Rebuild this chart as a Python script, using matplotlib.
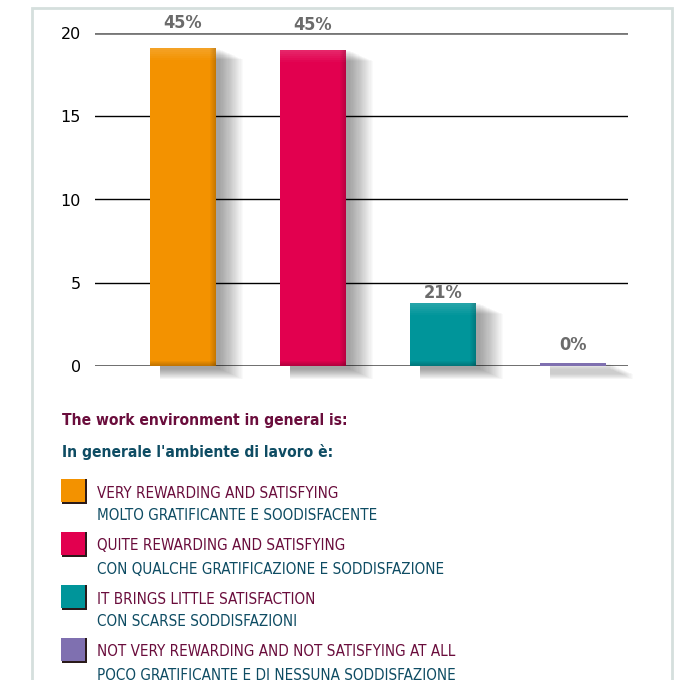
import matplotlib.pyplot as plt
from matplotlib.patches import Rectangle
import numpy as np

# data
values = [19.1, 19.0, 3.8, 0.2]
pct_labels = ["45%", "45%", "21%", "0%"]
colors = ["#f39200", "#e2004f", "#00959a", "#7f70b0"]
label_lift = [16, 16, 1, 9]  # px above bar top
legend_en = ["VERY REWARDING AND SATISFYING",
             "QUITE REWARDING AND SATISFYING",
             "IT BRINGS LITTLE SATISFACTION",
             "NOT VERY REWARDING AND NOT SATISFYING AT ALL"]
legend_it = ["MOLTO GRATIFICANTE E SOODISFACENTE",
             "CON QUALCHE GRATIFICAZIONE E SODDISFAZIONE",
             "CON SCARSE SODDISFAZIONI",
             "POCO GRATIFICANTE E DI NESSUNA SODDISFAZIONE"]
yticks = [0, 5, 10, 15, 20]

maroon = "#6a0d3c"
petrol = "#0e4c63"
cond = dict(family="DejaVu Sans", fontstretch="condensed")

W, H = 679, 680
fig = plt.figure(figsize=(W / 100, H / 100), dpi=100)

# outer frame
fig.patches.append(Rectangle((32 / W, -0.05), (672 - 32) / W, 1.05 - 8 / H,
                             transform=fig.transFigure, fill=False,
                             edgecolor="#d5dfdd", lw=2))

ax = fig.add_axes([95 / W, 1 - 366 / H, (628 - 95) / W, (366 - 33) / H])
x = np.arange(len(values))
ax.set_xlim(-0.677, 3.423)
ax.set_ylim(0, 20)

# soft drop shadows
px_x = 1 / 130.0
px_y = 20 / 333.0
for k in range(20):
    grow = k * 1.2
    ax.bar(x + (7 + grow * 0.5) * px_x, np.array(values) + 2 * px_y,
           width=0.51 - 6 * px_x + grow * px_x, bottom=-(3 + grow * 0.45) * px_y,
           color="black", alpha=0.018, lw=0, zorder=2, clip_on=False)

bars = ax.bar(x, values, width=0.51, color=colors, zorder=3)
# highlights: light strip on top, darker on right and bottom
for b, c in zip(bars, colors):
    bx, by, bw, bh = b.get_x(), b.get_y(), b.get_width(), b.get_height()
    if bh > 1:
        for j in range(6):
            ax.add_patch(Rectangle((bx, by + bh - (j + 1) * 2 * px_y), bw, 2 * px_y,
                                   color="white", alpha=0.05 * (6 - j) / 2, lw=0,
                                   zorder=4))
            ax.add_patch(Rectangle((bx + bw - (j + 1) * px_x, by), px_x, bh,
                                   color="black", alpha=0.03 * (6 - j), lw=0,
                                   zorder=4))
        for j in range(5):
            ax.add_patch(Rectangle((bx, by + j * px_y), bw, px_y,
                                   color="black", alpha=0.04 * (5 - j), lw=0,
                                   zorder=4))

for xi, v, lab, lift in zip(x, values, pct_labels, label_lift):
    ax.annotate(lab, (xi, v), xytext=(0, lift), textcoords="offset pixels",
                ha="center", va="bottom", fontsize=13, fontweight="bold",
                color="#6b6b6b", **cond)

ax.set_yticks(yticks)
ax.set_yticklabels([str(t) for t in yticks], fontsize=11.5)
ax.tick_params(axis="y", length=0, pad=10)
ax.set_xticks([])
for s in ax.spines.values():
    s.set_visible(False)
for t in yticks:
    if t == 20:
        ax.axhline(t, color="#777777", lw=2, zorder=1)
    elif t == 0:
        ax.axhline(t, color="#555555", lw=1.2, zorder=1)
    else:
        ax.axhline(t, color="black", lw=1, zorder=1)

# legend block
fig.text(62 / W, 1 - 420 / H, "The work environment in general is:",
         color=maroon, fontsize=11.2, fontweight="bold", va="center", **cond)
fig.text(62 / W, 1 - 452 / H, "In generale l'ambiente di lavoro è:",
         color=petrol, fontsize=11.2, fontweight="bold", va="center", **cond)

for i, (c, en, it) in enumerate(zip(colors, legend_en, legend_it)):
    top = 479 + i * 53
    fig.patches.append(Rectangle((62 / W, 1 - (top + 25) / H), 25 / W, 25 / H,
                                 transform=fig.transFigure, color="#2a1a1a", lw=0))
    fig.patches.append(Rectangle((61 / W, 1 - (top + 23) / H), 24 / W, 23 / H,
                                 transform=fig.transFigure, color=c, lw=0))
    fig.text(97 / W, 1 - (top + 14) / H, en, color=maroon, fontsize=10.9,
             va="center", **cond)
    fig.text(97 / W, 1 - (top + 37) / H, it, color=petrol, fontsize=10.9,
             va="center", **cond)

fig.savefig("out.png", dpi=100)
